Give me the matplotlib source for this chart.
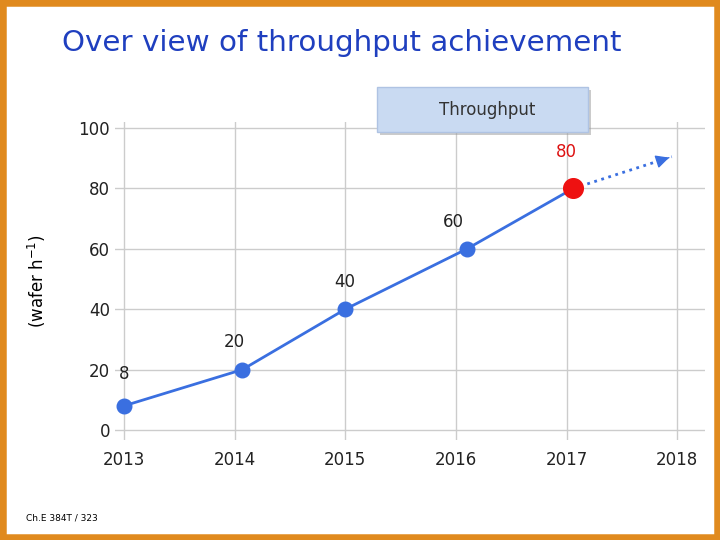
import matplotlib
matplotlib.use("Agg")
import matplotlib.pyplot as plt
from matplotlib.patches import Rectangle

years = [2013, 2014.07, 2015, 2016.1, 2017.06]
values = [8, 20, 40, 60, 80]
labels = ["8", "20", "40", "60", "80"]
proj_x = [2017.06, 2017.95]
proj_y = [80, 90.5]
xticks = [2013, 2014, 2015, 2016, 2017, 2018]
yticks = [0, 20, 40, 60, 80, 100]

fig = plt.figure(figsize=(7.2, 5.4), dpi=100)
W, H = 720, 540
fig.patches.append(Rectangle((0, 0), 1, 1, transform=fig.transFigure, fill=False,
                             edgecolor="#E08A1E", linewidth=9))
fig.text(62/W, 1-43/H, "Over view of throughput achievement", color="#1F3FBF",
         fontsize=21.2, va="center", ha="left")
fig.text(26/W, 1-518/H, "Ch.E 384T / 323", fontsize=6.5, va="center")

ax = fig.add_axes([115/W, 1-440/H, 590/W, (440-122)/H])
ax.set_xlim(2013-0.08, 2018+0.25)
ax.set_ylim(-3.3, 102)
for s in ax.spines.values():
    s.set_visible(False)
ax.set_xticks(xticks)
ax.set_yticks(yticks)
ax.grid(True, color="#cccccc", linewidth=1)
ax.tick_params(length=0, labelsize=12, colors="#222222")
ax.tick_params(axis="x", pad=8)
ax.set_ylabel("(wafer h$^{-1}$)", fontsize=12, labelpad=22)
ax.plot(years, values, color="#3A6FE0", linewidth=2, zorder=3)
ax.scatter(years[:-1], values[:-1], s=110, color="#3A6FE0", zorder=4)
ax.scatter(years[-1:], values[-1:], s=200, color="#EE1111", zorder=5)
ax.plot(proj_x, proj_y, linestyle=":", color="#3A6FE0", lw=2, zorder=3)
ax.annotate("", xy=(proj_x[1], proj_y[1]),
            xytext=(proj_x[1] - 0.05, proj_y[1] - 0.6),
            arrowprops=dict(arrowstyle="-|>", color="#3A6FE0", lw=1, mutation_scale=20))
offs = [(0.0, 10.5), (-0.07, 9), (0, 9), (-0.12, 9), (-0.06, 12)]
for i, (x, y, t) in enumerate(zip(years, values, labels)):
    dx, dy = offs[i]
    ax.text(x + dx, y + dy, t, ha="center", va="center", fontsize=12,
            color="#DD1111" if i == 4 else "#222222")

fig.patches.append(Rectangle((380/W, 1-135/H), 211/W, 45/H, transform=fig.transFigure,
                             facecolor="#999999", edgecolor="none", alpha=0.5, zorder=5))
fig.patches.append(Rectangle((377/W, 1-132/H), 211/W, 45/H, transform=fig.transFigure,
                             facecolor="#C9DAF2", edgecolor="#AFC3E3", zorder=6))
fig.text(487/W, 1-110/H, "Throughput", fontsize=12, ha="center", va="center",
         color="#333333", zorder=7)
fig.savefig("out.png", dpi=100)
